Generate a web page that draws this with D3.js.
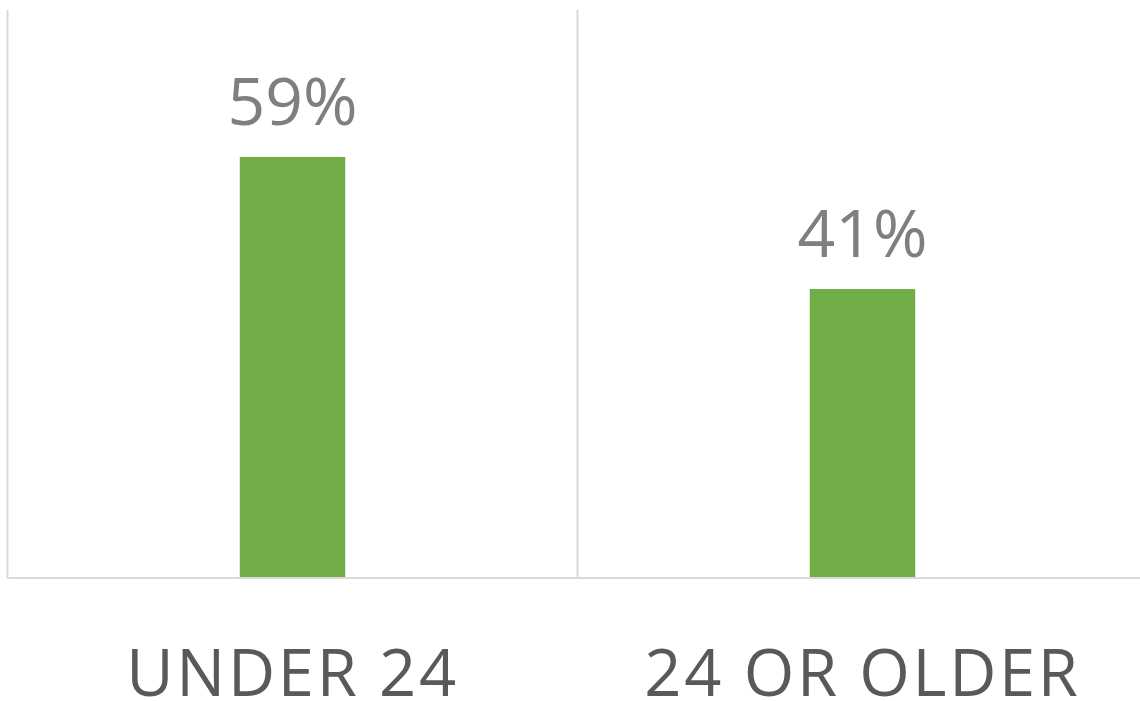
<!DOCTYPE html>
<html lang="en">
  <head>
    <meta charset="utf-8">
    <title>Age Split</title>
    <style>
      body {
        margin: 0;
        background: #fff;
        font-family: "Open Sans", Arial, sans-serif;
      }
      .grid {
        stroke: #d9d9d9;
        stroke-width: 2;
      }
      .bar {
        fill: #70ad47;
      }
      .value {
        fill: #7f7f7f;
        font-size: 66px;
      }
      .cat {
        fill: #595959;
        font-size: 65px;
        letter-spacing: 2.7px;
      }
    </style>
  </head>
  <body>
    <svg id="chart" width="1140" height="701"></svg>

    <script src="https://d3js.org/d3.v7.min.js"></script>
    <script>
      const categories = ["UNDER 24", "24 OR OLDER"];
      const shares = [0.593, 0.407];

      const svg = d3.select("#chart");
      const baseY = 578, topY = 10;

      const x = d3.scaleBand().domain(categories).range([7.5, 1147.5]);
      const y = d3.scaleLinear().domain([0, 0.8]).range([baseY, topY]);
      const barW = x.bandwidth() * 0.185;
      const fmt = d3.format(".0%");

      // vertical gridlines at category boundaries
      const bounds = categories.map(c => x(c));
      svg.selectAll(".vgrid").data(bounds).enter().append("line")
        .attr("class", "grid")
        .attr("x1", d => d).attr("x2", d => d)
        .attr("y1", topY).attr("y2", baseY);

      svg.append("line").attr("class", "grid")
        .attr("x1", 7).attr("x2", 1140)
        .attr("y1", baseY).attr("y2", baseY);

      const data = categories.map((c, i) => ({cat: c, v: shares[i]}));

      svg.selectAll(".bar").data(data).enter().append("rect")
        .attr("class", "bar")
        .attr("x", d => x(d.cat) + x.bandwidth() / 2 - barW / 2)
        .attr("width", barW)
        .attr("y", d => y(d.v))
        .attr("height", d => baseY - y(d.v) - 1);

      svg.selectAll(".value").data(data).enter().append("text")
        .attr("class", "value")
        .attr("text-anchor", "middle")
        .attr("x", d => x(d.cat) + x.bandwidth() / 2)
        .attr("y", d => y(d.v) - 32)
        .text(d => fmt(d.v));

      svg.selectAll(".cat").data(categories).enter().append("text")
        .attr("class", "cat")
        .attr("text-anchor", "middle")
        .attr("x", d => x(d) + x.bandwidth() / 2)
        .attr("y", 696)
        .text(d => d);
    </script>
  </body>
</html>
